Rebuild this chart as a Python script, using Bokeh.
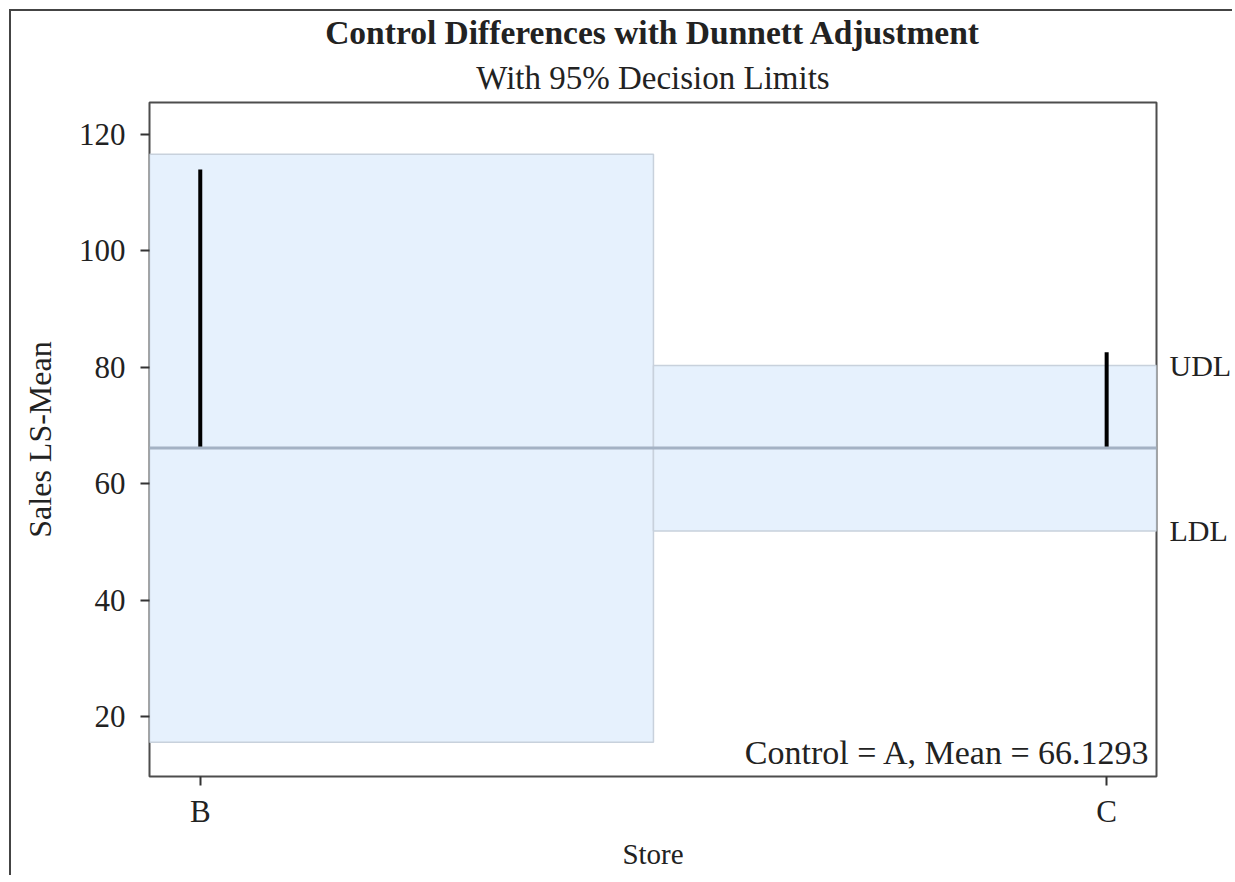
from bokeh.plotting import figure
from bokeh.models import Span, Label, Title, FixedTicker, Range1d, LinearAxis
from bokeh.embed import file_html
from bokeh.resources import INLINE

# ---- data ----
stores = ["B", "C"]
store_pos = [0, 1]
estimates = [114.0, 82.6]
ldl = [15.6, 51.9]
udl = [116.6, 80.3]
control_mean = 66.1293
y_ticks = [20, 40, 60, 80, 100, 120]
limit_labels = ["LDL", "UDL"]

FONT = "Liberation Serif"
TXT = "#222222"
x_start, x_end = -0.056, 1.055
y_start, y_end = 9.7, 125.5

p = figure(width=1223, height=866, output_backend="svg", toolbar_location=None,
           x_range=Range1d(x_start, x_end), y_range=Range1d(y_start, y_end),
           min_border_left=138, min_border_right=20, min_border_top=90,
           min_border_bottom=101, background_fill_color="white",
           border_fill_color="white")
p.styles = {"margin-left": "9px", "margin-top": "9px",
            "border-top": "2px solid #444444", "border-left": "2px solid #444444"}

p.xgrid.visible = False
p.ygrid.visible = False
p.outline_line_color = "#4d4d4d"
p.outline_line_width = 2

# bands (step decision limits)
mids = [(store_pos[i] + store_pos[i + 1]) / 2 for i in range(len(store_pos) - 1)]
lefts = [x_start] + mids
rights = mids + [x_end]
p.quad(left=lefts, right=rights, bottom=ldl, top=udl,
       fill_color="#E6F1FD", line_color="#C8D1DC", line_width=1.5)

# control mean line
p.add_layout(Span(location=control_mean, dimension="width",
                  line_color="#A4B2C4", line_width=3))

# vertical difference lines
p.segment(x0=store_pos, x1=store_pos, y0=[control_mean] * len(stores), y1=estimates,
          line_color="black", line_width=4)

# axes
p.xaxis.ticker = FixedTicker(ticks=store_pos)
p.xaxis.major_label_overrides = {pos: s for pos, s in zip(store_pos, stores)}
p.yaxis.ticker = FixedTicker(ticks=y_ticks)
for ax in (p.xaxis[0], p.yaxis[0]):
    ax.axis_line_color = None
    ax.major_tick_line_color = "#333333"
    ax.major_tick_line_width = 2
    ax.major_tick_in = 0
    ax.major_tick_out = 9
    ax.minor_tick_line_color = None
    ax.major_label_text_font = FONT
    ax.major_label_text_font_size = "31px"
    ax.major_label_text_color = TXT
    ax.axis_label_text_font = FONT
    ax.axis_label_text_font_style = "normal"
    ax.axis_label_text_color = TXT
p.xaxis.axis_label = "Store"
p.yaxis.axis_label = "Sales LS-Mean"
p.xaxis.axis_label_text_font_size = "29px"
p.yaxis.axis_label_text_font_size = "32px"
p.xaxis.major_label_standoff = 8
p.yaxis.major_label_standoff = 15
p.xaxis.axis_label_standoff = 6
p.yaxis.axis_label_standoff = 18

# UDL / LDL labels on a right-hand axis
c_limits = [ldl[-1], udl[-1]]
right = LinearAxis(ticker=FixedTicker(ticks=c_limits),
                   major_label_overrides={v: s for v, s in zip(c_limits, limit_labels)},
                   axis_line_color=None, major_tick_line_color=None,
                   major_tick_out=0, major_tick_in=0,
                   minor_tick_line_color=None, major_label_standoff=13,
                   major_label_text_font=FONT, major_label_text_font_size="30px",
                   major_label_text_color=TXT)
p.add_layout(right, "right")

# control annotation
p.add_layout(Label(x=x_end, y=y_start, x_offset=-6, y_offset=6,
                   text="Control = A, Mean = %.4f" % control_mean,
                   text_align="right", text_baseline="bottom",
                   text_font=FONT, text_font_size="34px", text_color=TXT))

# titles
p.add_layout(Title(text="With 95% Decision Limits", align="center", text_font=FONT,
                   text_font_size="33px", text_font_style="normal",
                   text_color=TXT, standoff=14), "above")
p.add_layout(Title(text="Control Differences with Dunnett Adjustment", align="center",
                   text_font=FONT, text_font_size="33.5px", text_font_style="bold",
                   text_color=TXT, standoff=0), "above")

open("out.html", "w").write(file_html(p, INLINE))
